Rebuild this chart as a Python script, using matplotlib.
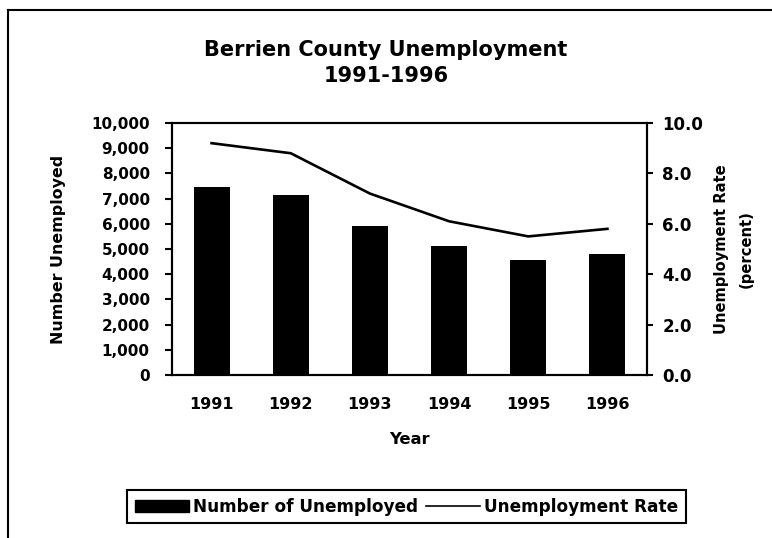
import matplotlib
matplotlib.use("Agg")
import matplotlib.pyplot as plt
from matplotlib.lines import Line2D
from matplotlib.patches import Patch
import numpy as np

years = ["1991", "1992", "1993", "1994", "1995", "1996"]
unemployed = [7450, 7150, 5900, 5100, 4550, 4800]
rate = [9.2, 8.8, 7.2, 6.1, 5.5, 5.8]
left_ticks = list(range(0, 10001, 1000))
right_ticks = [0.0, 2.0, 4.0, 6.0, 8.0, 10.0]

plt.rcParams['font.family'] = ['DejaVu Sans']

W, H = 772, 538
fig = plt.figure(figsize=(W / 100, H / 100), dpi=100)
ax = fig.add_axes([172 / W, 1 - 375 / H, (647 - 172) / W, (375 - 123) / H])

x = np.arange(len(years))
bars = ax.bar(x, unemployed, width=0.455, color='black', zorder=2)
ax.set_xlim(-0.5, len(years) - 0.5)
ax.set_ylim(0, 10000)
ax.set_xticks(x)
ax.set_xticklabels(years, fontsize=11.5, fontweight='bold')
ax.set_yticks(left_ticks)
ax.set_yticklabels([f"{v:,}" for v in left_ticks], fontsize=11, fontweight='bold')
ax.tick_params(axis='x', length=0, pad=16)
ax.tick_params(axis='y', length=5, width=1.5, direction='out', pad=11)
ax.set_xlabel("Year", fontsize=11.8, fontweight='bold', labelpad=14)
ax.set_ylabel("Number Unemployed", fontsize=11.4, fontweight='bold', labelpad=18)

ax2 = ax.twinx()
line, = ax2.plot(x, rate, color='black', lw=1.9, zorder=3)
ax2.set_ylim(0, 10)
ax2.set_yticks(right_ticks)
ax2.set_yticklabels([f"{v:.1f}" for v in right_ticks], fontsize=12, fontweight='bold')
ax2.tick_params(axis='y', length=4, width=1.5, direction='out', pad=7)
ax2.set_ylabel("Unemployment Rate\n(percent)", fontsize=10.6, fontweight='bold',
               labelpad=8, linespacing=1.8)

for a in (ax, ax2):
    for s in a.spines.values():
        s.set_linewidth(1.5)
        s.set_color('black')

fig.text(0.5, 1 - 63 / H, "Berrien County Unemployment\n1991-1996", ha='center', va='center',
         fontsize=15, fontweight='bold', linespacing=1.35)

handles = [Patch(facecolor='black', edgecolor='black'), Line2D([], [], color='black', lw=1.2)]
labels = ["Number of Unemployed", "Unemployment Rate"]
leg = fig.legend(handles, labels, loc='center', bbox_to_anchor=(406.5 / W, 1 - 506.5 / H), ncol=2,
                 frameon=True, fancybox=False, edgecolor='black', framealpha=1,
                 handlelength=3.2, handletextpad=0.2, columnspacing=0.5, borderpad=0.45,
                 prop={'weight': 'bold', 'size': 12.2})
leg.get_frame().set_linewidth(1.5)

# outer frame (left and top edges visible)
fig.add_artist(Line2D([8 / W, 8 / W], [0, 1 - 10 / H], transform=fig.transFigure, color='black', lw=1.5))
fig.add_artist(Line2D([8 / W, 1], [1 - 10 / H, 1 - 10 / H], transform=fig.transFigure, color='black', lw=1.5))

fig.savefig("out.png", dpi=100)
